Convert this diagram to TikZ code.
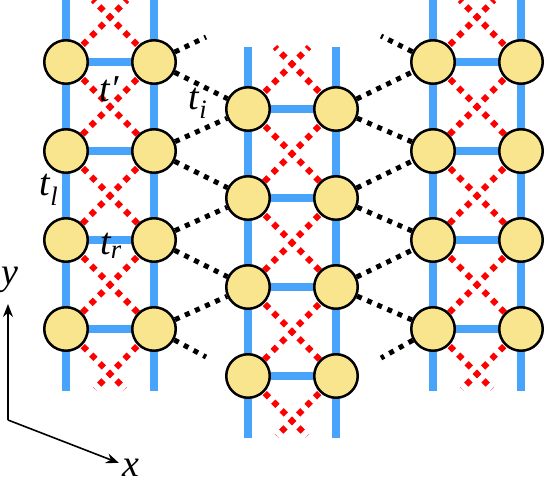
\documentclass[tikz,border=0pt]{standalone}
\usepackage{fontspec}
\newfontfamily\lblfont{Liberation Serif}[UprightFont=* Italic]
\usetikzlibrary{arrows.meta,calc}
\definecolor{railblue}{RGB}{72,164,250}
\definecolor{siteyellow}{RGB}{248,229,142}
\definecolor{hopred}{RGB}{255,0,0}
\pgfdeclarelayer{bg}
\pgfsetlayers{bg,main}
\tikzset{
  site/.style={circle,draw=black,line width=2.5pt,fill=siteyellow,minimum size=43.5pt,inner sep=0pt},
  rail/.style={railblue,line width=8.5pt},
  hop/.style={hopred,line width=6pt,dash pattern=on 6pt off 6pt},
  inter/.style={black,line width=5pt,dash pattern=on 5pt off 6pt},
  lbl/.style={font=\fontsize{38}{42}\lblfont,inner sep=0pt},
  axis/.style={-{Stealth[length=13pt,width=10pt]},line width=1.6pt}
}

\begin{document}
\begin{tikzpicture}[x=1pt,y=-1pt]
\useasboundingbox (0,0) rectangle (546,489);
% sites of the three ladders
\foreach \lad/\xo/\yo in {L/66/62, M/248/109, R/433/62}
  \foreach \k in {1,...,4}{
    \node[site] (\lad\k a) at (\xo,\yo+89*\k-89) {};
    \node[site] (\lad\k b) at (\xo+88,\yo+89*\k-89) {};
  }
% legs, rungs and diagonal hoppings
\begin{pgfonlayer}{bg}
\foreach \lad in {L,M,R}{
  \draw[rail] ([yshift=62pt]\lad1a.center) -- ([yshift=-62pt]\lad4a.center);
  \draw[rail] ([yshift=62pt]\lad1b.center) -- ([yshift=-62pt]\lad4b.center);
  \foreach \k in {1,...,4}
    \draw[rail] (\lad\k a.center) -- (\lad\k b.center);
  \foreach \k/\n in {1/2,2/3,3/4}{
    \draw[hop] (\lad\k a.center) -- (\lad\n b.center);
    \draw[hop] (\lad\k b.center) -- (\lad\n a.center);
  }
  \draw[hop] (\lad1a.center) -- ([shift={(61,-62)}]\lad1a.center);
  \draw[hop] (\lad1b.center) -- ([shift={(-61,-62)}]\lad1b.center);
  \draw[hop] (\lad4a.center) -- ([shift={(59,60)}]\lad4a.center);
  \draw[hop] (\lad4b.center) -- ([shift={(-59,60)}]\lad4b.center);
}
\end{pgfonlayer}
% couplings between the ladders
\foreach \k/\n in {1/1,2/1,2/2,3/2,3/3,4/3}{
  \draw[inter] (L\k b) -- (M\n a);
  \draw[inter] (M\n b) -- (R\k a);
}
\coordinate (Ltop) at (206,37);
\coordinate (Lbot) at (206,357);
\coordinate (Rtop) at (381,36);
\coordinate (Rbot) at (381,358);
\draw[inter] (L1b) -- (Ltop);
\draw[inter] (L4b) -- (Lbot);
\draw[inter] (R1a) -- (Rtop);
\draw[inter] (R4a) -- (Rbot);
% labels
\node[lbl] (tp) at (109,89) {t′};
\node[lbl] (ti) at (198,103) {t\textsubscript{i}};
\node[lbl] (tl) at (49,190) {t\textsubscript{l}};
\node[lbl] (tr) at (111,246) {t\textsubscript{r}};
% axes
\coordinate (O) at (8,420);
\coordinate (ey) at (8,304);
\coordinate (ex) at (119,463);
\draw[axis] (O) -- (ey);
\draw[axis] (O) -- (ex);
\node[lbl] (ylab) at (10,280) {y};
\node[lbl] (xlab) at (131,468) {x};
\end{tikzpicture}
\end{document}
